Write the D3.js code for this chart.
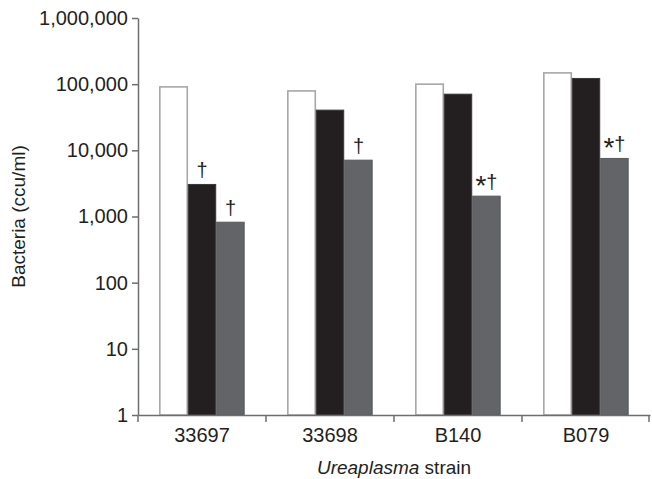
<!DOCTYPE html>
<html>
<head>
<meta charset="utf-8">
<script src="https://cdn.jsdelivr.net/npm/d3@7"></script>
<style>
  body { margin: 0; background: #fff; }
  svg { display: block; font-family: "Liberation Sans", Arial, sans-serif; }
</style>
</head>
<body>
<svg id="chart" width="652" height="479"></svg>
<script>
// Data
const strains = ["33697", "33698", "B140", "B079"];
const seriesKeys = ["open", "black", "grey"];
const openValues = [91000, 79000, 100000, 148000];
const blackValues = [3050, 40500, 70600, 122000];
const greyValues = [820, 7100, 2030, 7540];
const blackMarks = ["†", "", "", ""];
const greyMarks = ["†", "†", "*†", "*†"];
const yTicks = [1, 10, 100, 1000, 10000, 100000, 1000000];

const width = 652;
const height = 479;
const margin = { top: 18, right: 2, bottom: 64, left: 138 };

const fills = { open: "#ffffff", black: "#231f20", grey: "#636467" };
const strokes = { open: "#a7a7a9", black: "#3a3738", grey: "#58595b" };

const rows = strains.map((s, i) => ({
  strain: s,
  open: openValues[i],
  black: blackValues[i],
  grey: greyValues[i],
  marks: { open: "", black: blackMarks[i], grey: greyMarks[i] }
}));

const svg = d3.select("#chart");

const x = d3.scaleBand()
  .domain(strains)
  .range([margin.left, width - margin.right])
  .paddingInner(0)
  .paddingOuter(0);

// three bars side by side, centred in each category
const xInner = d3.scaleBand()
  .domain(seriesKeys)
  .range([0, x.bandwidth()])
  .paddingOuter(0.75)
  .paddingInner(0);

const y = d3.scaleLog()
  .domain([1, 1000000])
  .range([height - margin.bottom, margin.top]);

// bars
const groups = svg.append("g")
  .selectAll("g")
  .data(rows)
  .join("g")
  .attr("transform", d => `translate(${x(d.strain)},0)`);

groups.selectAll("rect")
  .data(d => seriesKeys.map(k => ({ key: k, value: d[k], mark: d.marks[k] })))
  .join("rect")
  .attr("x", d => xInner(d.key) + 0.5)
  .attr("y", d => y(d.value))
  .attr("width", xInner.bandwidth() - 1)
  .attr("height", d => y(1) - y(d.value))
  .attr("fill", d => fills[d.key])
  .attr("stroke", d => strokes[d.key])
  .attr("stroke-width", d => d.key === "open" ? 1.6 : 1);

// significance marks
const marks = groups.selectAll("text.mark")
  .data(d => seriesKeys.map(k => ({ key: k, value: d[k], mark: d.marks[k] })).filter(d => d.mark))
  .join("text")
  .attr("class", "mark")
  .attr("x", d => xInner(d.key) + xInner.bandwidth() / 2)
  .attr("y", d => y(d.value) - 7)
  .attr("text-anchor", "middle")
  .attr("font-size", 20)
  .attr("fill", "#231f20");

marks.each(function(d) {
  const t = d3.select(this);
  if (d.mark.startsWith("*")) {
    t.append("tspan").attr("font-size", 28).attr("dy", 6).text("*");
    t.append("tspan").attr("dy", -6).text(d.mark.slice(1));
  } else {
    t.text(d.mark);
  }
});

// y axis
const yAxis = svg.append("g")
  .attr("transform", `translate(${margin.left},0)`)
  .call(d3.axisLeft(y)
    .tickValues(yTicks)
    .tickFormat(d3.format(","))
    .tickSize(6)
    .tickSizeOuter(0)
    .tickPadding(4));
yAxis.selectAll("text").attr("font-size", 20).attr("fill", "#231f20")
  .attr("font-family", "Liberation Sans, Arial, sans-serif");
yAxis.selectAll("line, path").attr("stroke", "#6d6e70").attr("stroke-width", 1.5);

// x axis
const xAxis = svg.append("g")
  .attr("transform", `translate(0,${height - margin.bottom})`)
  .call(d3.axisBottom(x).tickSize(0).tickSizeOuter(0).tickPadding(13));
xAxis.select(".domain").attr("stroke", "#6d6e70").attr("stroke-width", 1.5);
xAxis.selectAll("text").attr("font-size", 20).attr("fill", "#231f20")
  .attr("font-family", "Liberation Sans, Arial, sans-serif");

// boundary ticks between categories
const bounds = strains.map(s => x(s)).concat([x(strains[strains.length - 1]) + x.bandwidth() - 1]);
xAxis.selectAll("line.bound")
  .data(bounds)
  .join("line")
  .attr("class", "bound")
  .attr("x1", d => d).attr("x2", d => d)
  .attr("y1", 0).attr("y2", 7)
  .attr("stroke", "#6d6e70")
  .attr("stroke-width", 1.5);

// axis titles
svg.append("text")
  .attr("transform", `translate(25,${(margin.top + height - margin.bottom) / 2}) rotate(-90)`)
  .attr("text-anchor", "middle")
  .attr("font-size", 19)
  .attr("fill", "#231f20")
  .text("Bacteria (ccu/ml)");

const xTitle = svg.append("text")
  .attr("x", (margin.left + width - margin.right) / 2)
  .attr("y", 474)
  .attr("text-anchor", "middle")
  .attr("font-size", 19)
  .attr("fill", "#231f20");
xTitle.append("tspan").attr("font-style", "italic").text("Ureaplasma");
xTitle.append("tspan").text(" strain");
</script>
</body>
</html>
